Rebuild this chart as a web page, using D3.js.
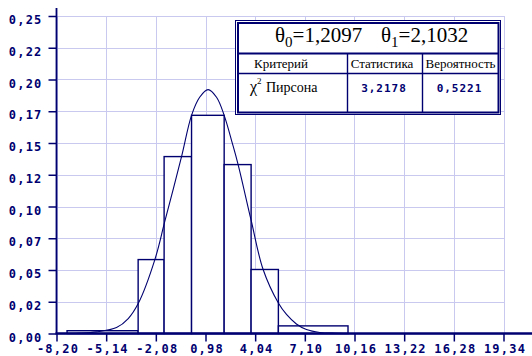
<!DOCTYPE html>
<html><head><meta charset="utf-8">
<script src="https://cdn.jsdelivr.net/npm/d3@7"></script>
<style>
html,body{margin:0;padding:0;background:#fff;}
svg{display:block;}
</style></head>
<body>
<script>
// ---------- data ----------
const xTickValues = [-8.20, -5.14, -2.08, 0.98, 4.04, 7.10, 10.16, 13.22, 16.28, 19.34];
const xTickLabels = ["-8,20", "-5,14", "-2,08", "0,98", "4,04", "7,10", "10,16", "13,22", "16,28", "19,34"];
const yTickValues = [0, 0.025, 0.05, 0.075, 0.1, 0.125, 0.15, 0.175, 0.2, 0.225, 0.25];
const yTickLabels = ["0,00", "0,02", "0,05", "0,07", "0,10", "0,12", "0,15", "0,17", "0,20", "0,22", "0,25"];
const binEdges   = [-7.55, -3.17, -1.57, 0.12, 2.13, 3.79, 5.47, 9.76];
const binHeights = [0.0022, 0.0582, 0.1393, 0.1718, 0.1330, 0.0504, 0.0060];
const curveX = [-8.20, -6.80, -5.73, -4.50, -3.78, -3.15, -2.14, -1.52, -0.50, 0.12, 0.62, 1.14, 1.66, 2.13, 2.64, 2.99, 3.79, 4.53, 5.47, 5.97, 6.58, 7.20, 8.02, 9.00, 10.16];
const curveY = [0.0000, 0.0003, 0.0013, 0.0047, 0.0118, 0.0240, 0.0582, 0.0886, 0.1390, 0.1718, 0.1860, 0.1920, 0.1860, 0.1718, 0.1495, 0.1330, 0.0892, 0.0504, 0.0240, 0.0150, 0.0075, 0.0031, 0.0008, 0.0002, 0.0000];
const theta0 = "1,2097";
const theta1 = "2,1032";
const headers = ["Критерий", "Статистика", "Вероятность"];
const criterionName = "Пирсона";
const statistic = "3,2178";
const probability = "0,5221";

// ---------- layout ----------
const W = 532, H = 356;
const navy = "#000070";
const gridColor = "#c9c9ef";
const labelFont = "'DejaVu Sans Mono', monospace";
const serif = "'Liberation Serif', 'Times New Roman', serif";

const svg = d3.select("body").append("svg").attr("width", W).attr("height", H);

const x = d3.scaleLinear().domain([-8.20, 19.34]).range([56.5, 503.5]);
const y = d3.scaleLinear().domain([0, 0.25]).range([333.5, 16]);

// grid
const grid = svg.append("g").attr("shape-rendering", "crispEdges");
grid.selectAll("line.v").data(xTickValues).join("line")
  .attr("x1", d => Math.round(x(d)) + 0.5).attr("x2", d => Math.round(x(d)) + 0.5)
  .attr("y1", y(0.25)).attr("y2", y(0))
  .attr("stroke", gridColor).attr("stroke-width", 1);
grid.selectAll("line.h").data(yTickValues).join("line")
  .attr("x1", x(-8.20)).attr("x2", x(19.34))
  .attr("y1", d => Math.round(y(d)) + 0.5).attr("y2", d => Math.round(y(d)) + 0.5)
  .attr("stroke", gridColor).attr("stroke-width", 1);

// histogram bars
const bars = binHeights.map((h, i) => ({x0: binEdges[i], x1: binEdges[i + 1], h}));
svg.append("g").selectAll("rect").data(bars).join("rect")
  .attr("x", d => x(d.x0)).attr("width", d => x(d.x1) - x(d.x0))
  .attr("y", d => y(d.h)).attr("height", d => y(0) - y(d.h))
  .attr("fill", "#fff").attr("stroke", navy).attr("stroke-width", 1.4);

// density curve
const line = d3.line().x(d => x(d[0])).y(d => y(d[1])).curve(d3.curveCatmullRom.alpha(0.5));
svg.append("path").datum(curveX.map((v, i) => [v, curveY[i]]))
  .attr("d", line).attr("fill", "none").attr("stroke", navy).attr("stroke-width", 1.1);

// x axis
const xAxis = d3.axisBottom(x).tickValues(xTickValues).tickFormat((d, i) => xTickLabels[i]).tickSize(8).tickSizeOuter(0);
const gx = svg.append("g").attr("transform", `translate(0,${y(0)})`).call(xAxis);
gx.select(".domain").remove();
gx.selectAll(".tick line").attr("stroke", navy).attr("stroke-width", 1.5);
gx.selectAll(".tick text").attr("fill", navy).attr("font-family", labelFont)
  .attr("font-weight", "bold").attr("font-size", "12px").attr("letter-spacing", "1.2px")
  .attr("dy", null).attr("y", 19).attr("dx", "1px");
svg.append("line").attr("x1", x(-8.20) - 1).attr("x2", W).attr("y1", y(0)).attr("y2", y(0))
  .attr("stroke", navy).attr("stroke-width", 2.5);

// y axis
const yAxis = d3.axisLeft(y).tickValues(yTickValues).tickFormat((d, i) => yTickLabels[i]).tickSize(8).tickSizeOuter(0);
const gy = svg.append("g").attr("transform", `translate(${x(-8.20)},0)`).call(yAxis);
gy.select(".domain").remove();
gy.selectAll(".tick line").attr("stroke", navy).attr("stroke-width", 1.5);
gy.selectAll(".tick text").attr("fill", navy).attr("font-family", labelFont)
  .attr("font-weight", "bold").attr("font-size", "12px").attr("letter-spacing", "1.2px")
  .attr("dy", "7.5px").attr("x", -14);
svg.append("line").attr("x1", x(-8.20)).attr("x2", x(-8.20)).attr("y1", 8).attr("y2", y(0))
  .attr("stroke", navy).attr("stroke-width", 1.8);

// ---------- stats table ----------
const T = svg.append("g");
T.append("rect").attr("x", 235.5).attr("y", 20.5).attr("width", 265).attr("height", 94)
  .attr("fill", "#fff").attr("stroke", navy).attr("stroke-width", 1);
T.append("rect").attr("x", 238).attr("y", 23).attr("width", 260.5).attr("height", 89.5)
  .attr("fill", "none").attr("stroke", navy).attr("stroke-width", 2);
T.append("line").attr("x1", 238).attr("x2", 498.5).attr("y1", 53.5).attr("y2", 53.5)
  .attr("stroke", navy).attr("stroke-width", 2);
T.append("line").attr("x1", 238).attr("x2", 498.5).attr("y1", 73.5).attr("y2", 73.5)
  .attr("stroke", navy).attr("stroke-width", 1.4);
[347.5, 422.5].forEach(vx => T.append("line").attr("x1", vx).attr("x2", vx).attr("y1", 53).attr("y2", 112.5)
  .attr("stroke", navy).attr("stroke-width", 1.4));

// title
function thetaText(tx, sub, val) {
  const t = T.append("text").attr("x", tx).attr("y", 42).attr("font-family", serif)
    .attr("font-size", "21px").attr("fill", "#000");
  t.append("tspan").text("θ");
  t.append("tspan").attr("font-size", "15px").attr("dy", 5).text(sub);
  t.append("tspan").attr("dy", -5).text("=" + val);
}
thetaText(275, "0", theta0);
thetaText(381, "1", theta1);

// headers
const colCenters = [281, 382, 460.5];
headers.forEach((h, i) => T.append("text").attr("x", colCenters[i]).attr("y", 68)
  .attr("text-anchor", "middle").attr("font-family", serif).attr("font-size", "13px")
  .attr("fill", "#000").text(h));

// row
const chi = T.append("text").attr("x", 250).attr("y", 92).attr("font-family", serif)
  .attr("font-size", "16px").attr("fill", "#000");
chi.append("tspan").text("χ");
chi.append("tspan").attr("font-size", "9px").attr("dy", -8).text("2");
chi.append("tspan").attr("x", 266).attr("dy", 8).attr("font-size", "14px").text(criterionName);

[[statistic, 384], [probability, 459.5]].forEach(([v, cx]) =>
  T.append("text").attr("x", cx).attr("y", 92).attr("text-anchor", "middle")
    .attr("font-family", labelFont).attr("font-weight", "bold").attr("font-size", "11px")
    .attr("letter-spacing", "1px").attr("fill", navy).text(v));
</script>
</body></html>
